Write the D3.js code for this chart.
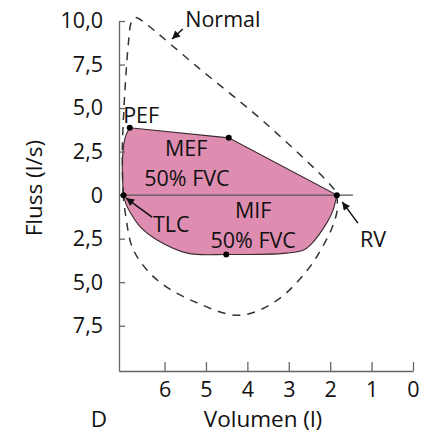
<!DOCTYPE html>
<html>
<head>
<meta charset="utf-8">
<script src="https://cdn.jsdelivr.net/npm/d3@7"></script>
<style>
  body { margin: 0; background: #fff; }
  svg { display: block; font-family: "Open Sans", sans-serif; }
</style>
</head>
<body>
<svg class="chart" width="422" height="434"></svg>
<script>
// volume (l), flow (l/s) -- inspiratory flows are negative
const patientRise = [[6.99, 0], [7.02, 1.3], [7.0, 2.6], [6.94, 3.4], [6.84, 3.87]];
const patientTop = [[6.84, 3.87], [4.45, 3.29], [1.84, 0]];
const patientInsp = [[1.84, 0], [1.93, -0.86], [2.07, -1.55], [2.48, -2.87], [2.65, -3.16], [3.04, -3.33],
  [4.51, -3.41], [5.45, -3.33], [6.17, -2.59], [6.58, -1.84], [6.82, -1.03], [6.94, -0.46], [6.99, 0]];
const normalExp = [[7.0, 0], [7.02, 2.5], [6.98, 5.0], [6.93, 7.0], [6.87, 8.8], [6.8, 9.95], [6.7, 10.2],
  [6.6, 10.1], [6.4, 9.75], [5.2, 7.35], [3.5, 4.0], [1.89, 0.29], [1.84, 0]];
const normalInsp = [[1.84, 0], [1.83, -0.86], [1.95, -1.84], [2.19, -2.99], [2.55, -4.3], [3.28, -6.03],
  [4.17, -6.9], [5.2, -6.2], [6.17, -4.89], [6.75, -3.16], [6.94, -1.15], [7.0, 0]];
const keyPoints = [
  {name: 'TLC', v: 6.99, f: 0},
  {name: 'PEF', v: 6.84, f: 3.87},
  {name: 'MEF', v: 4.45, f: 3.29},
  {name: 'RV', v: 1.84, f: 0},
  {name: 'MIF', v: 4.51, f: -3.41},
];
const xTicks = [6, 5, 4, 3, 2, 1, 0];
const yTicks = [10, 7.5, 5, 2.5, 0, -2.5, -5, -7.5];

const svg = d3.select('.chart');
const x = d3.scaleLinear().domain([7.1, 0]).range([119, 413]);
const y = d3.scaleLinear().domain([-10.1, 10]).range([371, 21]);

const ink = '#111';

svg.append('defs').append('marker')
    .attr('id', 'arrow')
    .attr('viewBox', '0 0 10 10')
    .attr('refX', 10).attr('refY', 5)
    .attr('markerUnits', 'userSpaceOnUse')
    .attr('markerWidth', 9).attr('markerHeight', 8)
    .attr('orient', 'auto')
  .append('path')
    .attr('d', 'M0,0L10,5L0,10z')
    .attr('fill', ink);

const smooth = d3.line().x(d => x(d[0])).y(d => y(d[1])).curve(d3.curveCatmullRom.alpha(0.5));
const straight = d3.line().x(d => x(d[0])).y(d => y(d[1]));
const cont = s => s.replace(/^M/, 'L');

// patient loop
svg.append('path')
    .attr('d', smooth(patientRise) + cont(straight(patientTop)) + cont(smooth(patientInsp)) + 'Z')
    .attr('fill', '#de8db0')
    .attr('stroke', '#3a2a30')
    .attr('stroke-width', 1.1);

// zero line
svg.append('line')
    .attr('x1', x(7.1)).attr('x2', x(1.45))
    .attr('y1', y(0)).attr('y2', y(0))
    .attr('stroke', '#555').attr('stroke-width', 1.2);

// normal loop, dashed
svg.append('path')
    .attr('d', smooth(normalExp) + cont(smooth(normalInsp)))
    .attr('fill', 'none')
    .attr('stroke', '#333')
    .attr('stroke-width', 1.5)
    .attr('stroke-dasharray', '8,7');

// axes
const fmt = d => d === 0 ? '0' : d3.format('.1f')(Math.abs(d)).replace('.', ',');
svg.append('g')
    .attr('transform', `translate(${x(7.1)},0)`)
    .call(d3.axisLeft(y).tickValues(yTicks).tickFormat(fmt).tickSize(-6).tickSizeOuter(0).tickPadding(16))
    .call(g => g.selectAll('text').attr('font-size', 21.5).attr('fill', ink).attr('font-family', 'Open Sans'))
    .call(g => g.selectAll('line, path').attr('stroke', '#666').attr('stroke-width', 1.3));

svg.append('g')
    .attr('transform', `translate(0,${y(-10.1)})`)
    .call(d3.axisBottom(x).tickValues(xTicks).tickFormat(d3.format('d')).tickSize(-9).tickSizeOuter(0).tickPadding(11))
    .call(g => g.selectAll('text').attr('font-size', 21.5).attr('fill', ink).attr('font-family', 'Open Sans'))
    .call(g => g.selectAll('line, path').attr('stroke', '#666').attr('stroke-width', 1.3));

// key points
svg.append('g').selectAll('circle')
    .data(keyPoints)
    .join('circle')
    .attr('cx', d => x(d.v)).attr('cy', d => y(d.f))
    .attr('r', 3).attr('fill', '#000');

// annotations
const label = (txt, v, f, anchor = 'start') => svg.append('text')
    .attr('x', x(v)).attr('y', y(f))
    .attr('text-anchor', anchor)
    .attr('font-size', 21.5).attr('fill', ink)
    .text(txt);
const arrow = (v1, f1, v2, f2) => svg.append('line')
    .attr('x1', x(v1)).attr('y1', y(f1)).attr('x2', x(v2)).attr('y2', y(f2))
    .attr('stroke', ink).attr('stroke-width', 1.5)
    .attr('marker-end', 'url(#arrow)');

label('Normal', 5.5, 9.65);
arrow(5.56, 9.54, 5.82, 8.97);
label('PEF', 7.0, 4.14);
label('MEF', 5.48, 2.26, 'middle');
label('50% FVC', 5.46, 0.52, 'middle');
label('TLC', 6.28, -2.12);
arrow(6.30, -1.26, 6.93, -0.17);
label('MIF', 3.86, -1.3, 'middle');
label('50% FVC', 3.86, -3.04, 'middle');
label('RV', 1.28, -3.0);
arrow(1.33, -1.61, 1.71, -0.39);

// axis titles
svg.append('text')
    .attr('transform', `translate(42,${y(0) - 7}) rotate(-90)`)
    .attr('text-anchor', 'middle')
    .attr('font-size', 22.5).attr('fill', ink)
    .text('Fluss (l/s)');
svg.append('text')
    .attr('x', 263).attr('y', 427)
    .attr('text-anchor', 'middle')
    .attr('font-size', 22.5).attr('fill', ink)
    .text('Volumen (l)');
svg.append('text')
    .attr('x', 99).attr('y', 427)
    .attr('text-anchor', 'middle')
    .attr('font-size', 22.5).attr('fill', ink)
    .text('D');
</script>
</body>
</html>
